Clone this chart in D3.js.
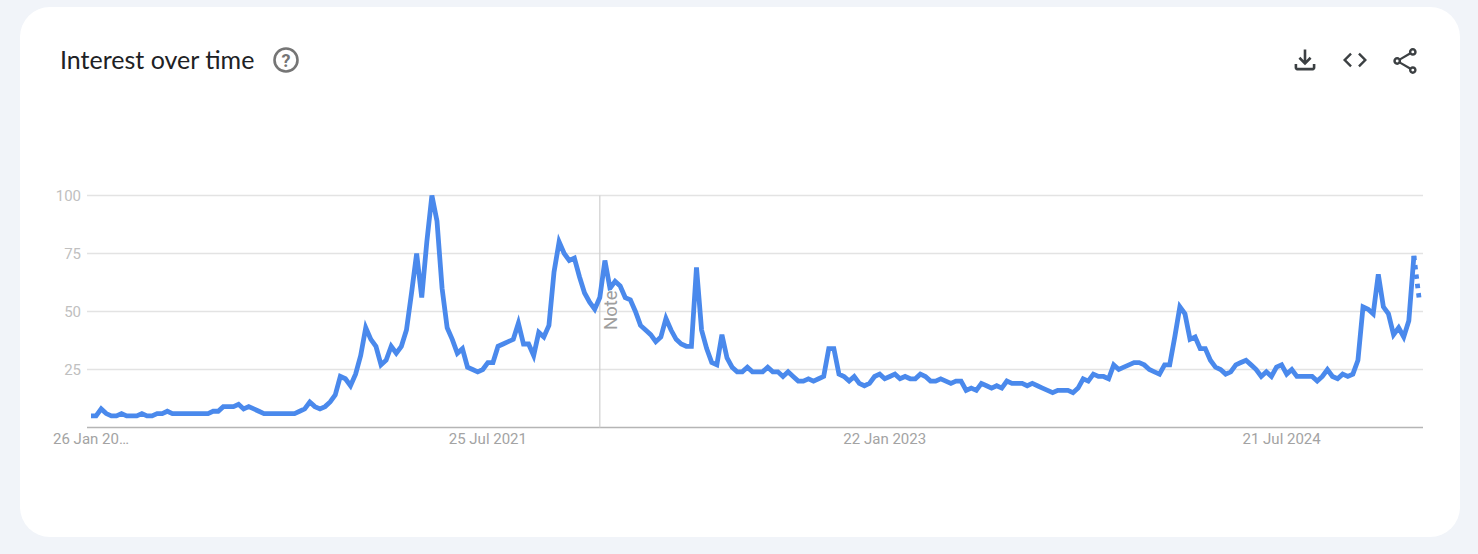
<!DOCTYPE html>
<html lang="en">
<head>
    <meta charset="UTF-8">
    <title>Interest over time</title>
    <script src="https://d3js.org/d3.v7.min.js"></script>
    <style>
        html, body { margin: 0; padding: 0; background: #f1f4f9; overflow: hidden; }
        svg { display: block; }
        .tick-y { font-family: Roboto, sans-serif; font-size: 15px; fill: #c0c0c0; }
        .tick-x { font-family: Roboto, sans-serif; font-size: 15px; fill: #a3a3a3; }
    </style>
</head>
<body>
    <svg id="chart" width="1478" height="554"></svg>

    <script>
        // Weekly search interest
        const interest = [
            5,5,8,6,5,5,6,5,5,5,6,5,5,6,6,7,6,6,6,6,
            6,6,6,6,7,7,9,9,9,10,8,9,8,7,6,6,6,6,6,6,
            6,7,8,11,9,8,9,11,14,22,21,18,23,31,43,38,35,27,29,35,
            32,35,42,58,75,56,80,100,89,60,43,38,32,34,26,25,24,25,28,28,
            35,36,37,38,45,36,36,31,41,39,44,67,80,75,72,73,65,58,54,51,
            56,72,60,63,61,56,55,50,44,42,40,37,39,47,42,38,36,35,35,69,
            42,34,28,27,40,30,26,24,24,26,24,24,24,26,24,24,22,24,22,20,
            20,21,20,21,22,34,34,23,22,20,22,19,18,19,22,23,21,22,23,21,
            22,21,21,23,22,20,20,21,20,19,20,20,16,17,16,19,18,17,18,17,
            20,19,19,19,18,19,18,17,16,15,16,16,16,15,17,21,20,23,22,22,
            21,27,25,26,27,28,28,27,25,24,23,27,27,39,52,49,38,39,34,34,
            29,26,25,23,24,27,28,29,27,25,22,24,22,26,27,23,25,22,22,22,
            22,20,22,25,22,21,23,22,23,29,52,51,49,66,52,49,40,43,39,46,
            74,56
        ];
        const yTicks = [25, 50, 75, 100];
        const xTickWeeks = [0, 78, 156, 234];
        const xTickLabels = ["26 Jan 20…", "25 Jul 2021", "22 Jan 2023", "21 Jul 2024"];
        const noteWeek = 100;

        const x = d3.scaleLinear().domain([0, interest.length - 1]).range([91, 1419]);
        const y = d3.scaleLinear().domain([0, 100]).range([427.5, 195.5]);

        const svg = d3.select("#chart");

        // Card
        svg.append("rect")
            .attr("x", 20).attr("y", 7)
            .attr("width", 1440).attr("height", 530)
            .attr("rx", 30)
            .attr("fill", "#fff");

        // Header
        svg.append("text")
            .attr("x", 60).attr("y", 69)
            .attr("font-family", "Lato, sans-serif")
            .attr("font-size", 25)
            .attr("fill", "#202124")
            .text("Interest over time");

        svg.append("circle")
            .attr("cx", 286).attr("cy", 60).attr("r", 11.5)
            .attr("fill", "none")
            .attr("stroke", "#757575")
            .attr("stroke-width", 2.6);
        svg.append("text")
            .attr("x", 286).attr("y", 66.5)
            .attr("text-anchor", "middle")
            .attr("font-family", "Roboto, sans-serif")
            .attr("font-weight", 700)
            .attr("font-size", 18)
            .attr("fill", "#757575")
            .text("?");

        // Material icons, 24 unit box
        const icons = [
            { cx: 1305, cy: 60, s: 1.3, d: "M18 15v3H6v-3H4v3c0 1.1.9 2 2 2h12c1.1 0 2-.9 2-2v-3h-2zm-1-4l-1.41-1.41L13 12.17V4h-2v8.17L8.41 9.59 7 11l5 5 5-5z" },
            { cx: 1355, cy: 60, s: 1.2, d: "M9.4 16.6L4.8 12l4.6-4.6L8 6l-6 6 6 6 1.4-1.4zm5.2 0l4.6-4.6-4.6-4.6L16 6l6 6-6 6-1.4-1.4z" },
            { cx: 1405, cy: 61, s: 1.3, d: "M18 16.08c-.76 0-1.44.3-1.96.77L8.91 12.7c.05-.23.09-.46.09-.7s-.04-.47-.09-.7l7.05-4.11c.54.5 1.25.81 2.04.81 1.66 0 3-1.34 3-3s-1.34-3-3-3-3 1.34-3 3c0 .24.04.47.09.7L8.04 9.81C7.5 9.31 6.79 9 6 9c-1.66 0-3 1.34-3 3s1.34 3 3 3c.79 0 1.5-.31 2.04-.81l7.12 4.16c-.05.21-.08.43-.08.65 0 1.61 1.31 2.92 2.92 2.92 1.61 0 2.92-1.31 2.92-2.92s-1.31-2.92-2.92-2.92z", holes: [[18, 5], [6, 12], [18, 19]] }
        ];
        icons.forEach(icon => {
            const g = svg.append("g")
                .attr("transform", `translate(${icon.cx - 12 * icon.s},${icon.cy - 12 * icon.s}) scale(${icon.s})`);
            g.append("path").attr("d", icon.d).attr("fill", "#3c4043");
            (icon.holes || []).forEach(h => {
                g.append("circle").attr("cx", h[0]).attr("cy", h[1]).attr("r", 1.1).attr("fill", "#fff");
            });
        });

        // Gridlines and y labels
        svg.selectAll("line.grid")
            .data(yTicks)
            .enter().append("line")
            .attr("class", "grid")
            .attr("x1", 87).attr("x2", 1423)
            .attr("y1", d => y(d)).attr("y2", d => y(d))
            .attr("stroke", "#e3e3e3")
            .attr("stroke-width", 1.4);

        svg.selectAll("text.tick-y")
            .data(yTicks)
            .enter().append("text")
            .attr("class", "tick-y")
            .attr("x", 81)
            .attr("y", d => y(d) + 5)
            .attr("text-anchor", "end")
            .text(d => d);

        // Baseline
        svg.append("line")
            .attr("x1", 87).attr("x2", 1423)
            .attr("y1", y(0)).attr("y2", y(0))
            .attr("stroke", "#b5b5b5")
            .attr("stroke-width", 1.6);

        // x labels
        svg.selectAll("text.tick-x")
            .data(xTickWeeks)
            .enter().append("text")
            .attr("class", "tick-x")
            .attr("x", d => x(d))
            .attr("y", 443.5)
            .attr("text-anchor", "middle")
            .text((d, i) => xTickLabels[i]);

        // Note marker
        svg.append("line")
            .attr("x1", x(noteWeek)).attr("x2", x(noteWeek))
            .attr("y1", y(100)).attr("y2", y(0))
            .attr("stroke", "#cfcfcf")
            .attr("stroke-width", 1.2);

        // Line is clipped at the top of the plot, so the 100 peak is cut flat
        svg.append("clipPath").attr("id", "plot")
            .append("rect")
            .attr("x", 80).attr("y", 195)
            .attr("width", 1350).attr("height", 240);

        const line = d3.line()
            .x(d => x(d.i))
            .y(d => y(d.v));

        const points = interest.map((v, i) => ({ i, v }));
        const last = points.length - 1;

        svg.append("path")
            .attr("clip-path", "url(#plot)")
            .attr("d", line(points.slice(0, last)))
            .attr("fill", "none")
            .attr("stroke", "#4a89ec")
            .attr("stroke-width", 4.8)
            .attr("stroke-linejoin", "miter");

        // Last week is partial, drawn dotted
        svg.append("path")
            .attr("d", line(points.slice(last - 1)))
            .attr("fill", "none")
            .attr("stroke", "#4a89ec")
            .attr("stroke-width", 4.8)
            .attr("stroke-dasharray", "4.4 5");

        // Note label sits over the line with a white halo
        svg.append("text")
            .attr("transform", `translate(${x(noteWeek) + 17},${y(50) + 18.5}) rotate(-90)`)
            .attr("font-family", "Roboto, sans-serif")
            .attr("font-size", 18.5)
            .attr("fill", "#9e9e9e")
            .attr("stroke", "#fff")
            .attr("stroke-width", 2)
            .attr("paint-order", "stroke")
            .text("Note");
    </script>
</body>
</html>
